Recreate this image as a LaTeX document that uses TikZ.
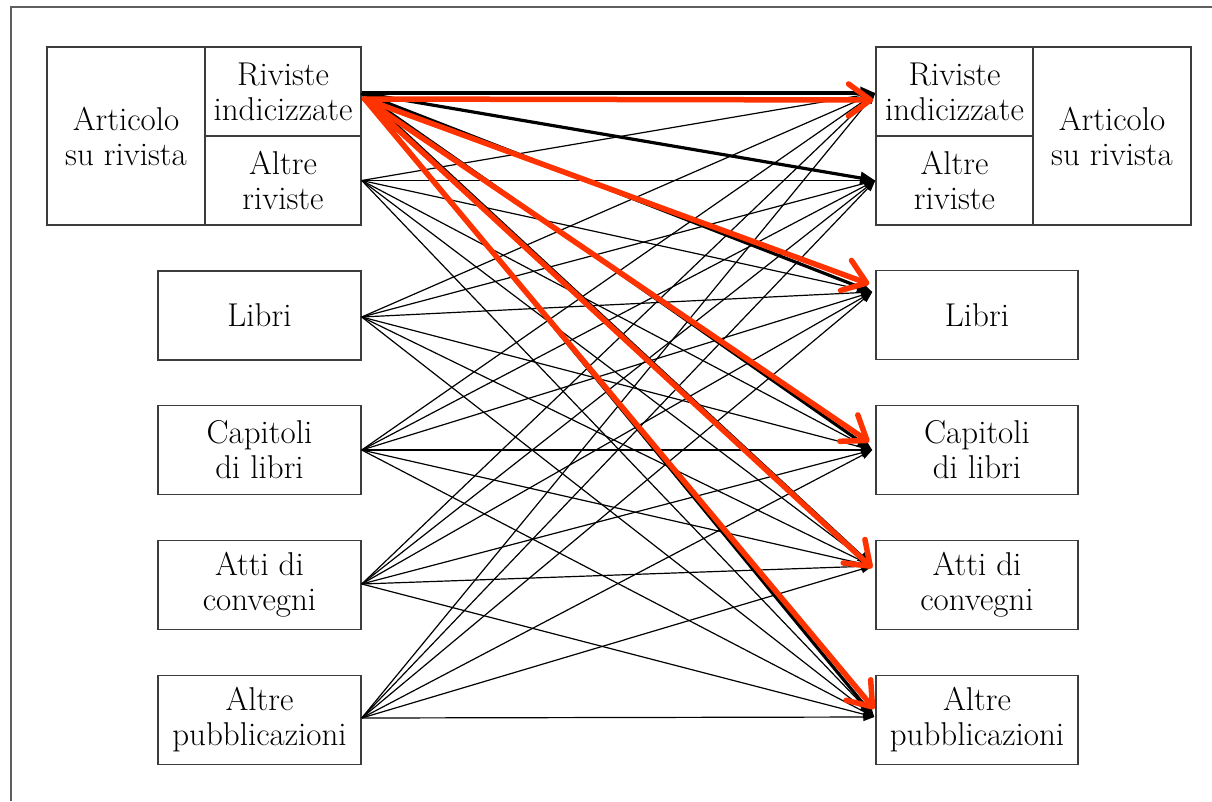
\documentclass[tikz,border=0pt]{standalone}
\usetikzlibrary{arrows.meta}
\definecolor{redarrow}{RGB}{255,51,0}
\definecolor{boxline}{RGB}{60,60,60}
\definecolor{frameline}{RGB}{95,95,95}
\begin{document}
\begin{tikzpicture}[x=1pt,y=-1pt,
  cell/.style={draw=boxline, line width=1.5pt, minimum height=89pt, inner sep=0pt,
    align=center, font=\fontsize{33}{35}\selectfont},
  thinlink/.style={black, line width=1.2pt, -{Triangle[length=11pt,width=8pt]}},
  thicklink/.style={black, line width=3.2pt, -{Triangle[length=15pt,width=12pt]}},
  redlink/.style={redarrow, line width=5.5pt, line cap=round,
    -{Straight Barb[length=22pt,width=32pt,round]}}]
\useasboundingbox (0,0) rectangle (1212,801);
\draw[frameline, line width=2pt] (11,801) -- (11,7) -- (1212,7);

% left column
\node[cell, minimum width=158pt, minimum height=178pt] (lart) at (126,136) {Articolo\\su rivista};
\node[cell, minimum width=156pt] (lri) at (283,91.5) {Riviste\\indicizzate};
\node[cell, minimum width=156pt] (lar) at (283,180.5) {Altre\\riviste};
\node[cell, minimum width=203pt] (llib) at (259.5,315.5) {Libri};
\node[cell, minimum width=203pt] (lcap) at (259.5,450) {Capitoli\\di libri};
\node[cell, minimum width=203pt] (latt) at (259.5,585) {Atti di\\convegni};
\node[cell, minimum width=203pt] (lalt) at (259.5,720) {Altre\\pubblicazioni};

% right column
\node[cell, minimum width=157pt] (rri) at (954.5,91.5) {Riviste\\indicizzate};
\node[cell, minimum width=157pt] (rar) at (954.5,180.5) {Altre\\riviste};
\node[cell, minimum width=158pt, minimum height=178pt] (rart) at (1112,136) {Articolo\\su rivista};
\node[cell, minimum width=202pt] (rlib) at (977,315) {Libri};
\node[cell, minimum width=202pt] (rcap) at (977,450) {Capitoli\\di libri};
\node[cell, minimum width=202pt] (ratt) at (977,585) {Atti di\\convegni};
\node[cell, minimum width=202pt] (ralt) at (977,720) {Altre\\pubblicazioni};

% connection points
\coordinate (s1) at ([yshift=-1.5pt]lri.east);
\coordinate (s2) at (lar.east);
\coordinate (s3) at ([yshift=-1.5pt]llib.east);
\coordinate (s4) at (lcap.east);
\coordinate (s5) at ([yshift=1pt]latt.east);
\coordinate (s6) at ([yshift=2pt]lalt.east);
\coordinate (t1) at ([yshift=-1.5pt]rri.west);
\coordinate (t2) at (rar.west);
\coordinate (t3) at ([xshift=-3pt,yshift=23pt]rlib.west);
\coordinate (t4) at ([xshift=-3pt]rcap.west);
\coordinate (t5) at ([xshift=-3pt,yshift=19pt]ratt.west);
\coordinate (t6) at ([xshift=-1pt,yshift=3pt]ralt.west);
\coordinate (r0) at ([xshift=3pt,yshift=-7.5pt]lri.east);
\coordinate (r1) at ([xshift=-2pt,yshift=-8.5pt]rri.west);
\coordinate (r3) at ([xshift=-6pt,yshift=31pt]rlib.west);
\coordinate (r4) at ([xshift=-6pt,yshift=8pt]rcap.west);
\coordinate (r5) at ([xshift=-3pt,yshift=17pt]ratt.west);
\coordinate (r6) at ([xshift=-1pt,yshift=11pt]ralt.west);

\foreach \s in {s2,s3,s4,s5,s6}
  \foreach \t in {t1,t2,t3,t4,t5,t6}
    \draw[thinlink] (\s) -- (\t);
\foreach \t in {t1,t2,t3,t4,t5,t6}
  \draw[thicklink] (s1) -- (\t);
\foreach \t in {r1,r3,r4,r5,r6}
  \draw[redlink] (r0) -- (\t);
\end{tikzpicture}
\end{document}
